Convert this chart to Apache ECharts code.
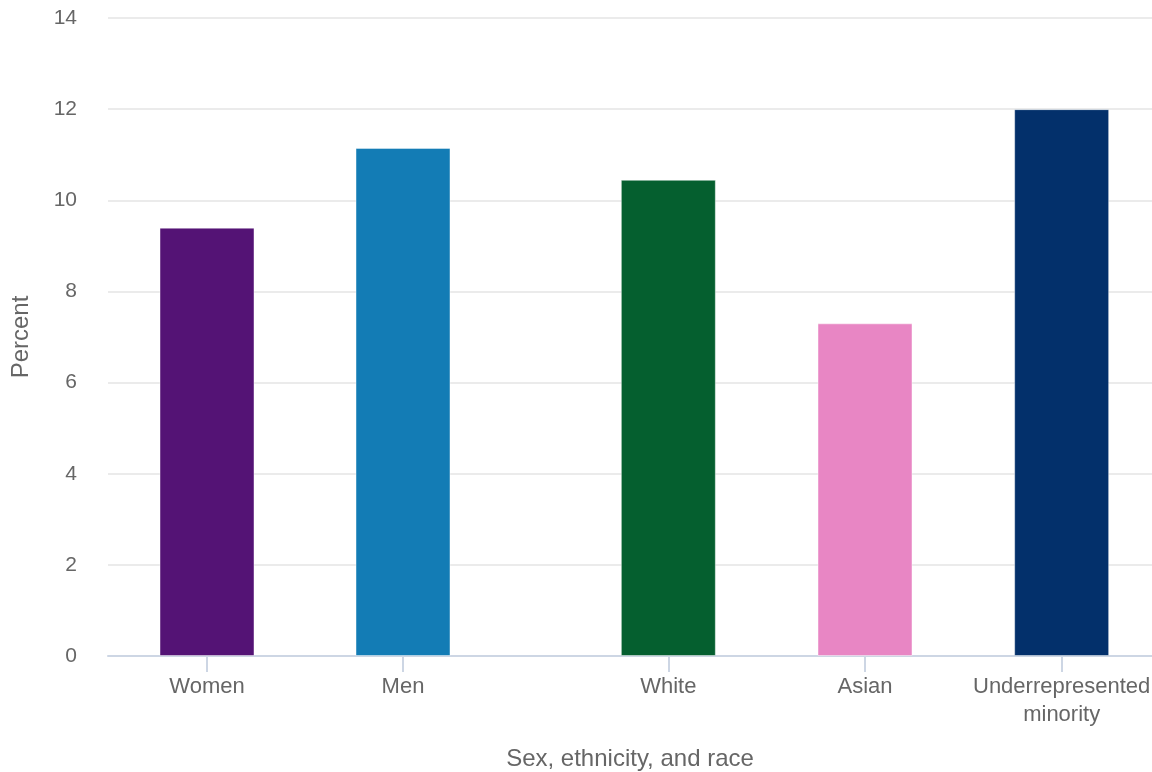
<!DOCTYPE html>
<html>
<head>
<meta charset="utf-8">
<script src="https://cdn.jsdelivr.net/npm/echarts@6/dist/echarts.min.js"></script>
<style>
html,body{margin:0;padding:0;background:#fff;}
#chart{width:1152px;height:772px;}
</style>
</head>
<body>
<div id="chart"></div>
<script>
// Group 1: sex
const sexCategories = ['Women', 'Men'];
const sexValues = [9.4, 11.15];
const sexColors = ['#541375', '#137cb5'];
// Group 2: ethnicity and race
const raceCategories = ['White', 'Asian', 'Underrepresented\nminority'];
const raceValues = [10.45, 7.3, 12.0];
const raceColors = ['#055f2f', '#e886c4', '#03306b'];
const yTicks = [0, 2, 4, 6, 8, 10, 12, 14];

const FONT = '"Liberation Sans", Arial, sans-serif';
const TEXT = '#666666';
const AXIS = '#cdd6e4';
const TOP = 18, BOTTOM = 116;

const chart = echarts.init(document.getElementById('chart'));

function hiddenY(gi) {
  return { type: 'value', gridIndex: gi, min: yTicks[0], max: yTicks[yTicks.length - 1], interval: 2, show: false };
}
function catX(gi, cats) {
  return {
    type: 'category', gridIndex: gi, data: cats,
    axisLine: { show: false },
    axisTick: { show: true, alignWithLabel: true, length: 16, lineStyle: { color: AXIS, width: 2 } },
    axisLabel: { color: TEXT, fontSize: 22, fontFamily: FONT, margin: 17, lineHeight: 28, interval: 0 },
    splitLine: { show: false }
  };
}
function barItems(vals, colors) {
  return vals.map((v, i) => ({ value: v, itemStyle: { color: colors[i] } }));
}

chart.setOption({
  animation: false,
  backgroundColor: '#ffffff',
  grid: [
    { left: 108, right: 0, top: TOP, bottom: BOTTOM, outerBoundsMode: 'none' },
    { left: 109, width: 392, top: TOP, bottom: BOTTOM, outerBoundsMode: 'none' },
    { left: 570, width: 590, top: TOP, bottom: BOTTOM, outerBoundsMode: 'none' }
  ],
  xAxis: [
    {
      type: 'value', gridIndex: 0, min: 0, max: 1,
      axisLine: { show: true, lineStyle: { color: AXIS, width: 2 } },
      axisTick: { show: false }, axisLabel: { show: false }, splitLine: { show: false },
      name: 'Sex, ethnicity, and race', nameLocation: 'middle', nameGap: 91,
      nameTextStyle: { color: TEXT, fontSize: 24, fontFamily: FONT }
    },
    catX(1, sexCategories),
    catX(2, raceCategories)
  ],
  yAxis: [
    {
      type: 'value', gridIndex: 0, min: yTicks[0], max: yTicks[yTicks.length - 1], interval: 2,
      axisLine: { show: false }, axisTick: { show: false },
      axisLabel: { color: TEXT, fontSize: 21, fontFamily: FONT, margin: 31, padding: [10, 0, 0, 0] },
      splitLine: { show: true, lineStyle: { color: '#ebebeb', width: 2 } },
      name: 'Percent', nameLocation: 'middle', nameGap: 75, nameRotate: 90,
      nameTextStyle: { color: TEXT, fontSize: 24, fontFamily: FONT }
    },
    hiddenY(1),
    hiddenY(2)
  ],
  series: [
    {
      type: 'bar', xAxisIndex: 1, yAxisIndex: 1, barWidth: 95,
      data: barItems(sexValues, sexColors),
      itemStyle: { borderColor: 'rgba(255,255,255,0.45)', borderWidth: 1 }
    },
    {
      type: 'bar', xAxisIndex: 2, yAxisIndex: 2, barWidth: 95,
      data: barItems(raceValues, raceColors),
      itemStyle: { borderColor: 'rgba(255,255,255,0.45)', borderWidth: 1 }
    }
  ]
});
</script>
</body>
</html>
